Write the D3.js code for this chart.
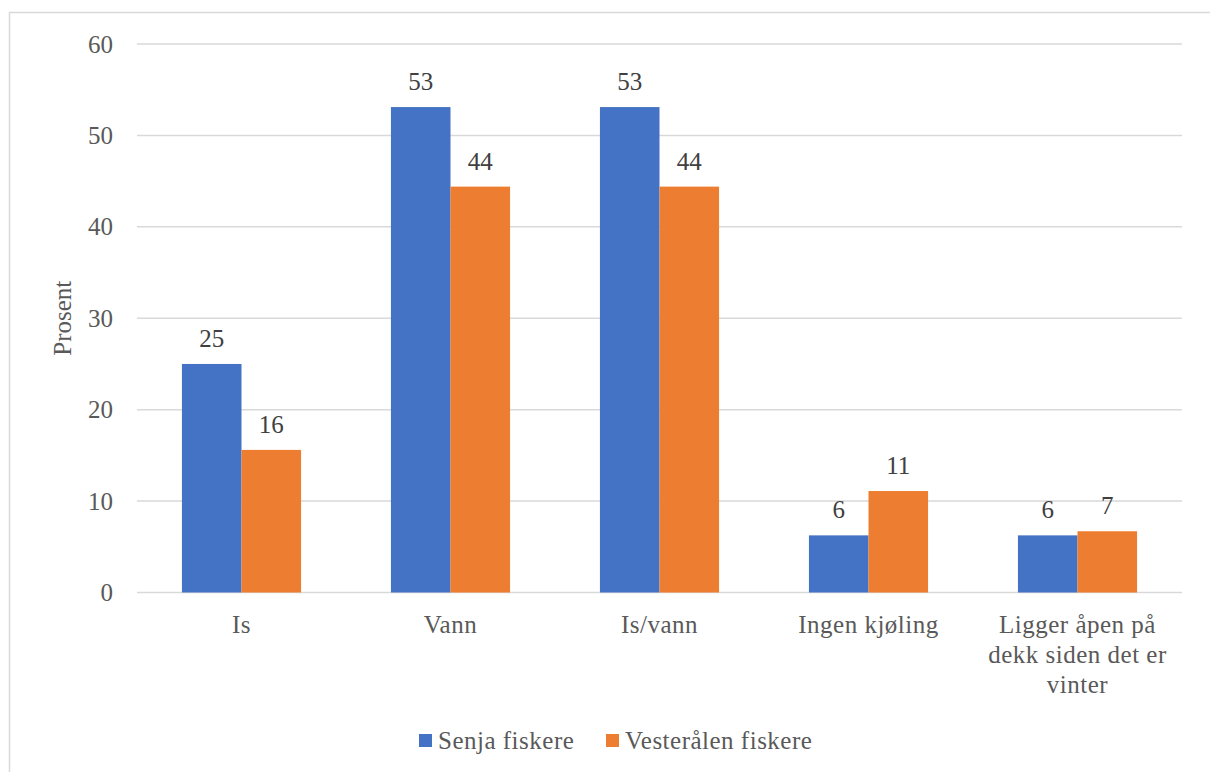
<!DOCTYPE html>
<html>
<head>
<meta charset="utf-8">
<script src="https://cdn.jsdelivr.net/npm/d3@7"></script>
<style>
  html, body { margin: 0; padding: 0; background: #fff; }
  svg { display: block; }
</style>
</head>
<body>
<svg id="chart" width="1210" height="772"></svg>
<script>
const categories = ["Is", "Vann", "Is/vann", "Ingen kjøling", "Ligger åpen på dekk siden det er vinter"];
const categoryLines = [["Is"], ["Vann"], ["Is/vann"], ["Ingen kjøling"], ["Ligger åpen på", "dekk siden det er", "vinter"]];
const seriesNames = ["Senja fiskere", "Vesterålen fiskere"];
const senjaValues = [25, 53.1, 53.1, 6.25, 6.25];
const vesteralenValues = [15.6, 44.4, 44.4, 11.1, 6.7];
const yTicks = [0, 10, 20, 30, 40, 50, 60];
const colors = ["#4472C4", "#ED7D31"];

const FONT = "'Liberation Serif', 'DejaVu Serif', serif";
const FS = 25;
const svg = d3.select("#chart");
const W = 1210, H = 772;
const margin = { left: 137, right: 28, top: 44, bottom: 179.5 };
const plotW = W - margin.left - margin.right;
const plotH = H - margin.top - margin.bottom;

// outer border
svg.append("rect").attr("x", 9.5).attr("y", 12.5).attr("width", W + 10).attr("height", H + 10)
  .attr("fill", "none").attr("stroke", "#d9d9d9").attr("stroke-width", 1.5);

const g = svg.append("g").attr("transform", `translate(${margin.left},${margin.top})`);

const x0 = d3.scaleBand().domain(categories).range([0, plotW]).paddingInner(0.43).paddingOuter(0.215);
const x1 = d3.scaleBand().domain(seriesNames).range([0, x0.bandwidth()]).padding(0);
const y = d3.scaleLinear().domain([0, 60]).range([plotH, 0]);

// gridlines
g.append("g").selectAll("line").data(yTicks).join("line")
  .attr("x1", 0).attr("x2", plotW)
  .attr("y1", d => y(d)).attr("y2", d => y(d))
  .attr("stroke", "#d9d9d9").attr("stroke-width", 1.5);

// y axis labels
const yAxis = d3.axisLeft(y).tickValues(yTicks).tickSize(0).tickPadding(24);
const ya = g.append("g").call(yAxis).attr("font-family", FONT).attr("font-size", FS);
ya.select(".domain").remove();
ya.selectAll("text").attr("fill", "#595959");

// y title
svg.append("text").attr("transform", `translate(71,${margin.top + plotH / 2}) rotate(-90)`)
  .attr("text-anchor", "middle").attr("font-family", FONT).attr("font-size", FS).attr("fill", "#595959").text("Prosent");

const data = categories.map((c, i) => ({ cat: c, vals: [senjaValues[i], vesteralenValues[i]] }));

const groups = g.append("g").selectAll("g").data(data).join("g")
  .attr("transform", d => `translate(${x0(d.cat)},0)`);

groups.selectAll("rect").data(d => d.vals.map((v, j) => ({ v, s: seriesNames[j], j }))).join("rect")
  .attr("x", d => x1(d.s)).attr("width", x1.bandwidth())
  .attr("y", d => y(d.v)).attr("height", d => y(0) - y(d.v))
  .attr("fill", d => colors[d.j]);

groups.selectAll("text.lbl").data(d => d.vals.map((v, j) => ({ v, s: seriesNames[j], j }))).join("text")
  .attr("class", "lbl")
  .attr("x", d => x1(d.s) + x1.bandwidth() / 2)
  .attr("y", d => y(d.v) - 17)
  .attr("text-anchor", "middle").attr("font-family", FONT).attr("font-size", FS).attr("fill", "#404040")
  .text(d => Math.round(d.v));

// category labels
const xa = g.append("g").attr("transform", `translate(0,${plotH})`);
categories.forEach((c, i) => {
  const t = xa.append("text").attr("text-anchor", "middle").attr("font-family", FONT).attr("font-size", FS)
    .attr("letter-spacing", 0.5)
    .attr("fill", "#595959").attr("x", x0(c) + x0.bandwidth() / 2);
  categoryLines[i].forEach((line, k) => {
    t.append("tspan").attr("x", x0(c) + x0.bandwidth() / 2).attr("y", 40 + k * 30).text(line);
  });
});

// legend
const legend = svg.append("g");
const items = [{ x: 419 }, { x: 606 }];
seriesNames.forEach((s, i) => {
  legend.append("rect").attr("x", items[i].x).attr("y", 734).attr("width", 13).attr("height", 13).attr("fill", colors[i]);
  legend.append("text").attr("x", items[i].x + 19).attr("y", 749).attr("font-family", FONT).attr("font-size", FS)
    .attr("letter-spacing", 0.5).attr("fill", "#595959").text(s);
});
</script>
</body>
</html>
